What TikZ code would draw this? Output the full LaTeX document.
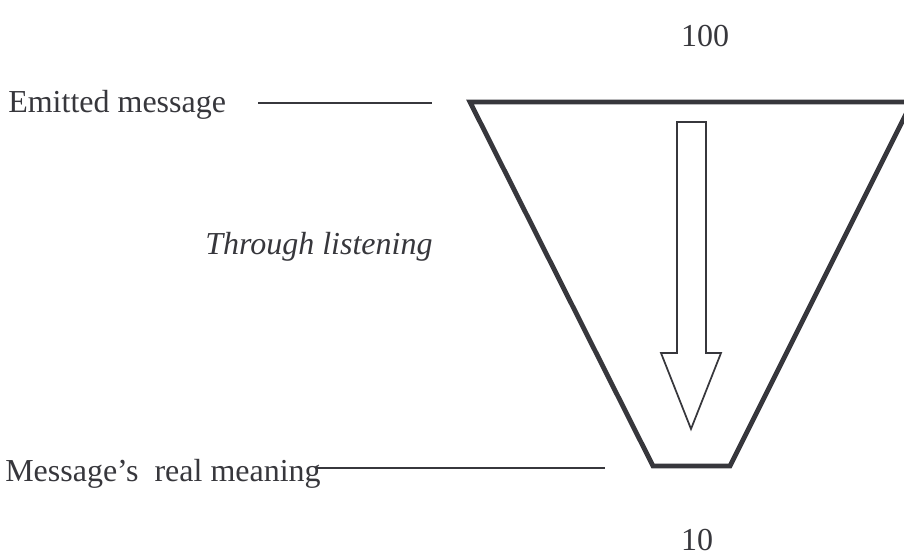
\documentclass[tikz,border=0pt]{standalone}
\usepackage{fontspec}
\setmainfont{Liberation Serif}
\definecolor{ink}{RGB}{55,55,60}
\begin{document}
\begin{tikzpicture}[x=0.75pt,y=-0.75pt,
  lbl/.style={inner sep=0pt,text=ink,font=\fontsize{24}{28}\selectfont},
  thin/.style={draw=ink,line width=1.5pt},
  cup/.style={draw=ink,line width=3.6pt,line join=miter},
  arrowbody/.style={draw=ink,line width=1.3pt,line join=miter}]
\useasboundingbox (0,0) rectangle (904,556);
\clip (0,0) rectangle (904,556);
% labels
\node[lbl,anchor=base west] (emit) at (8,113) {Emitted message};
\node[lbl,anchor=base west] (real) at (5,481) {Message’s\ \ real meaning};
\node[lbl,anchor=base west,font=\fontsize{24}{28}\selectfont\itshape] (through) at (205,255) {Through listening};
\node[lbl,anchor=base] (hundred) at (705,47) {100};
\node[lbl,anchor=base] (ten) at (697,550) {10};
% callout lines
\coordinate (e1) at (258,103);
\coordinate (e2) at (432,103);
\coordinate (r1) at (316,468);
\coordinate (r2) at (605,468);
\draw[thin] (e1) -- (e2);
\draw[thin] (r1) -- (r2);
% funnel
\coordinate (tl) at (470,102);
\coordinate (tr) at (912,102);
\coordinate (bl) at (653,466);
\coordinate (br) at (730,466);
\draw[cup] (tr) -- (tl) -- (bl) -- (br) -- (tr);
% down arrow
\draw[arrowbody] (677,122) -- (706,122) -- (706,353) -- (721,353) -- (691,429)
  -- (661,353) -- (677,353) -- cycle;
\end{tikzpicture}
\end{document}
